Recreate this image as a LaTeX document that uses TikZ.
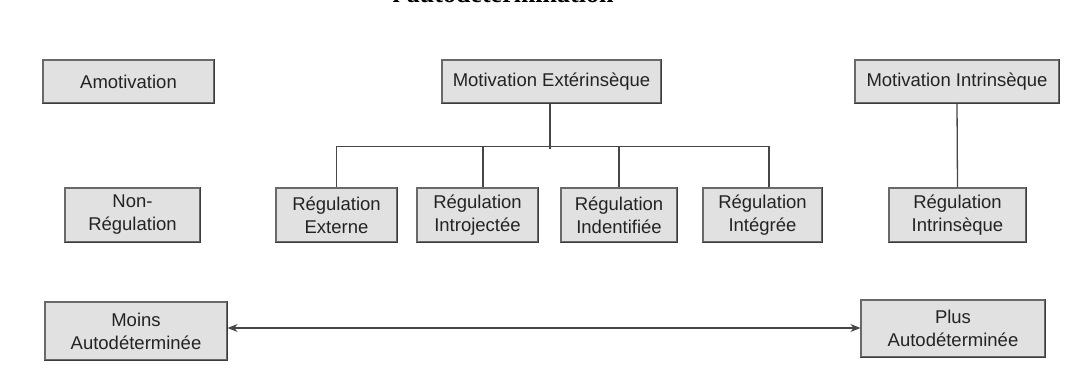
\documentclass[tikz,border=0pt]{standalone}
\usepackage{fontspec}
\setmainfont{Liberation Sans}
\newfontfamily\titlefont{Liberation Serif}
\usetikzlibrary{calc,arrows.meta}
\definecolor{boxfill}{RGB}{225,225,225}
\definecolor{boxline}{RGB}{105,105,105}
\definecolor{shadowcol}{RGB}{60,60,60}
\definecolor{linecol}{RGB}{70,70,70}
\definecolor{txtcol}{RGB}{35,35,35}
\tikzset{
  shadowline/.style={draw=shadowcol, line width=1.6pt, line cap=rect},
  box/.style={draw=boxline, line width=1.2pt, fill=boxfill, align=center,
    inner sep=0pt, text=txtcol, font=\fontsize{18.5}{23}\selectfont,
    append after command={(\tikzlastnode.south west) edge[shadowline] (\tikzlastnode.south east)
      (\tikzlastnode.south east) edge[shadowline] (\tikzlastnode.north east)}},
  conn/.style={draw=linecol, line width=1.3pt},
  dblarrow/.style={conn, {Stealth[length=10pt,width=8pt]}-{Stealth[length=10pt,width=8pt]}}
}
\begin{document}
\begin{tikzpicture}[x=1pt,y=-1pt]
\path[use as bounding box] (0,0) rectangle (1068,379);
\clip (0,0) rectangle (1068,379);
\node[anchor=base, font=\titlefont\bfseries\fontsize{26}{30}\selectfont, inner sep=0pt] (title) at (503,3) {l'autodétermination};

\node[box, minimum width=171, minimum height=43] (amot) at (128.5,81.5) {Amotivation};
\node[box, minimum width=219, minimum height=43] (mext) at (551.5,81.5) {Motivation Extérinsèque};
\node[box, minimum width=204, minimum height=43] (mint) at (957,81.5) {Motivation Intrinsèque};

\node[box, minimum width=135, minimum height=54] (nonreg) at (132.5,215) {Non-\\Régulation};
\node[box, minimum width=121, minimum height=54] (rext) at (336.5,215) {Régulation\\Externe};
\node[box, minimum width=121, minimum height=54] (rintro) at (477.5,215) {Régulation\\Introjectée};
\node[box, minimum width=116, minimum height=54] (rind) at (619,215) {Régulation\\Indentifiée};
\node[box, minimum width=119, minimum height=54] (rintg) at (762.5,215) {Régulation\\Intégrée};
\node[box, minimum width=137, minimum height=54] (rintr) at (957.5,215) {Régulation\\Intrinsèque};

\node[box, minimum width=182, minimum height=58] (moins) at (136,331) {Moins\\Autodéterminée};
\node[box, minimum width=184, minimum height=57] (plus) at (953,328.5) {Plus\\Autodéterminée};

\coordinate (bus) at ($(mext.south)+(-1.5,45)$);
\coordinate (bl) at ($(rext.north)+(0,-41)$);
\coordinate (br) at ($(rintg.north)+(6.5,-41)$);
\draw[conn] ($(mext.south)+(-1.5,0)$) -- (bus);
\draw[conn] (bl) -- (br);
\draw[conn] (rext.north) -- (bl);
\draw[conn] ($(rintro.north)+(5.5,0)$) -- ++(0,-41);
\draw[conn] (rind.north) -- ++(0,-41);
\draw[conn] ($(rintg.north)+(6.5,0)$) -- (br);
\draw[conn] (mint.south) -- (rintr.north);

\draw[dblarrow] (moins.east |- 0,328) -- (plus.west |- 0,328);
\end{tikzpicture}
\end{document}
